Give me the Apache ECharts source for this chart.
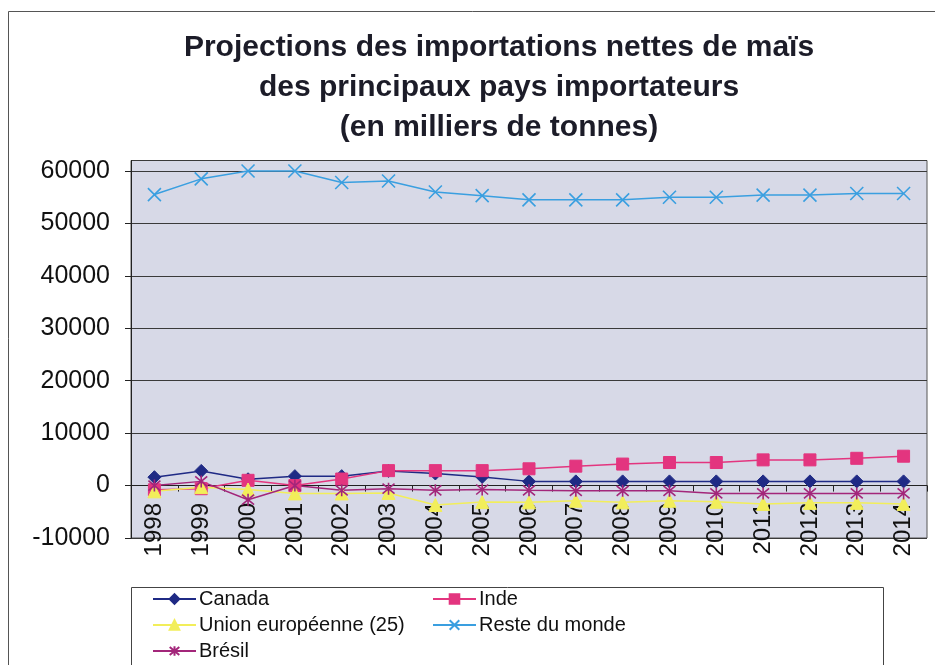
<!DOCTYPE html>
<html>
<head>
<meta charset="utf-8">
<script src="https://cdn.jsdelivr.net/npm/echarts@6/dist/echarts.min.js"></script>
<style>
html,body{margin:0;padding:0;background:#fff;}
#chart{width:935px;height:665px;}
</style>
</head>
<body>
<div id="chart"></div>
<script>
const years = ['1998','1999','2000','2001','2002','2003','2004','2005','2006','2007','2008','2009','2010','2011','2012','2013','2014'];
const canada = [1600, 2800, 1200, 1800, 1800, 2800, 2300, 1650, 800, 800, 800, 800, 800, 800, 800, 800, 800];
const inde = [-800, -600, 1000, 0, 1250, 2850, 2850, 2850, 3200, 3700, 4100, 4400, 4400, 4900, 4900, 5200, 5600];
const ue = [-1100, -300, -750, -1500, -1500, -1400, -3700, -3150, -3200, -2900, -3200, -2900, -3100, -3500, -3300, -3300, -3500];
const reste = [55500, 58500, 60000, 60000, 57800, 58100, 56000, 55300, 54500, 54500, 54500, 55000, 55000, 55400, 55400, 55700, 55700];
const bresil = [0, 800, -2700, 0, -900, -600, -900, -750, -900, -1000, -1000, -1000, -1500, -1500, -1500, -1500, -1500];
const seriesNames = ['Canada', 'Inde', 'Union européenne (25)', 'Reste du monde', 'Brésil'];
const titleText = 'Projections des importations nettes de maïs\ndes principaux pays importateurs\n(en milliers de tonnes)';

const chart = echarts.init(document.getElementById('chart'), null, {renderer: 'canvas'});
const FONT = 'Liberation Sans, Arial, sans-serif';
const xPath = 'path://M0,0L10,10M10,0L0,10';
const starPath = 'path://M0,0L10,10M10,0L0,10M5,-1L5,11';

function mk(name, data, color, symbol, size, extra) {
  return Object.assign({
    name: name, type: 'line', data: data, z: 5,
    symbol: symbol, symbolSize: size,
    lineStyle: {color: color, width: 1.5},
    itemStyle: {color: color, borderColor: color, borderWidth: 1},
    emphasis: {disabled: true},
    animation: false
  }, extra || {});
}

chart.setOption({
  backgroundColor: '#ffffff',
  title: {
    text: titleText,
    left: 499,
    top: 28,
    padding: 0,
    textAlign: 'center',
    textStyle: {fontFamily: FONT, fontSize: 30, fontWeight: 'bold', color: '#1c1c28', lineHeight: 40}
  },
  graphic: [
    {type: 'rect', shape: {x: 8.5, y: 11.5, width: 1000, height: 1000}, style: {fill: 'none', stroke: '#555', lineWidth: 1}, z: -1, silent: true},
    {type: 'rect', shape: {x: 131.5, y: 587.5, width: 752, height: 100}, style: {fill: '#fff', stroke: '#444', lineWidth: 1}, z: 0, silent: true}
  ],
  legend: [
    {
      orient: 'vertical', left: 152, top: 586, padding: 0, itemGap: 0,
      itemWidth: 43, itemHeight: 12,
      data: [seriesNames[0], seriesNames[2], seriesNames[4]],
      textStyle: {fontFamily: FONT, fontSize: 20, color: '#111', lineHeight: 26, padding: [0,0,0,-2]},
      z: 5
    },
    {
      orient: 'vertical', left: 432, top: 586, padding: 0, itemGap: 0,
      itemWidth: 43, itemHeight: 12,
      data: [seriesNames[1], seriesNames[3]],
      textStyle: {fontFamily: FONT, fontSize: 20, color: '#111', lineHeight: 26, padding: [0,0,0,-2]},
      z: 5
    }
  ],
  grid: {
    left: 131, right: 8, top: 160.5, bottom: 127,
    show: true, backgroundColor: '#d7d9e7', borderColor: '#555', borderWidth: 1
  },
  xAxis: {
    type: 'category', data: years, boundaryGap: true,
    axisLine: {onZero: true, lineStyle: {color: '#222', width: 1}},
    axisTick: {show: true, length: 6, lineStyle: {color: '#222'}},
    axisLabel: {rotate: 90, margin: -35, fontFamily: FONT, fontSize: 24, color: '#111'},
    splitLine: {show: false}
  },
  yAxis: {
    type: 'value', min: -10000, max: 62000, interval: 10000,
    axisLine: {show: true, lineStyle: {color: '#222'}},
    axisTick: {show: true, length: 6, lineStyle: {color: '#222'}},
    axisLabel: {
      margin: 21, fontFamily: FONT, fontSize: 25, color: '#111', showMaxLabel: false,
      formatter: function (v) { return v > 60000 ? '' : String(v); }
    },
    splitLine: {show: true, lineStyle: {color: '#3a3a3a', width: 1}}
  },
  series: [
    mk(seriesNames[0], canada, '#1f2a85', 'diamond', 13),
    mk(seriesNames[1], inde, '#e3357f', 'rect', 12),
    mk(seriesNames[2], ue, '#f2ee5a', 'triangle', 13),
    mk(seriesNames[3], reste, '#3a9fe0', xPath, 13, {itemStyle: {color: '#3a9fe0', borderColor: '#3a9fe0', borderWidth: 1.6}}),
    mk(seriesNames[4], bresil, '#a3267a', starPath, 12, {itemStyle: {color: '#a3267a', borderColor: '#a3267a', borderWidth: 1.6}})
  ]
});
</script>
</body>
</html>
